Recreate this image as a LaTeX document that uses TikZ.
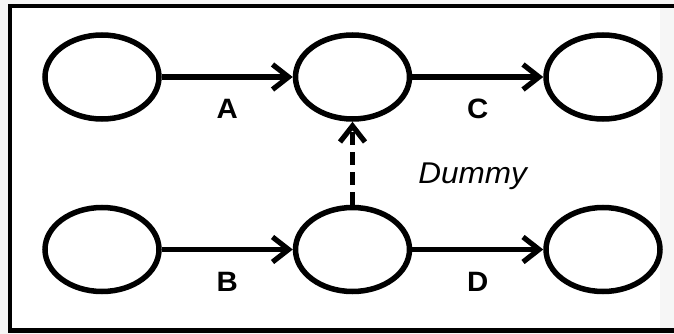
\documentclass[tikz,border=0pt]{standalone}
\usepackage{fontspec}
\setmainfont[FakeStretch=1.05]{Liberation Sans}
\usetikzlibrary{shapes.geometric, arrows.meta, positioning}

\begin{document}
\begin{tikzpicture}[
        x=1pt, y=1pt,
        event/.style={ellipse, draw=black, fill=white, line width=5.5pt, minimum width=114pt, minimum height=84pt},
        arrow/.style={line width=5.2pt, -{Straight Barb[length=16pt, width=25pt]}},
        dummy/.style={arrow, dash pattern=on 13pt off 7pt},
        act/.style={font=\fontsize{28}{32}\selectfont\bfseries, midway, yshift=-32pt},
        note/.style={font=\fontsize{30}{34}\selectfont\itshape}
    ]

    % page and frame
    \useasboundingbox (0,0) rectangle (674,-334);
    \fill[gray!7] (0,0) rectangle (674,-334);
    \fill[white] (12,-8) rectangle (660,-328.5);
    \draw[line width=4.5pt] (674,-6) -- (10,-6) -- (10,-330.5) -- (674,-330.5);

    % Events - top row
    \node[event] (e1) at (102,-77) {};
    \node[event, right=131pt of e1] (e2) {};
    \node[event, right=131pt of e2] (e3) {};

    % Events - bottom row
    \node[event, below=83pt of e1] (e4) {};
    \node[event, below=83pt of e2] (e5) {};
    \node[event, below=83pt of e3] (e6) {};

    % Activities
    \draw[arrow] (e1) -- node[act] (actA) {A} (e2);
    \draw[arrow] (e2) -- node[act] (actC) {C} (e3);
    \draw[arrow] (e4) -- node[act] (actB) {B} (e5);
    \draw[arrow] (e5) -- node[act] (actD) {D} (e6);

    % Dummy activity
    \draw[dummy] (e5) -- node[note, midway, anchor=base west, xshift=60pt, yshift=-20pt] (dlabel) {Dummy} (e2);

\end{tikzpicture}
\end{document}
